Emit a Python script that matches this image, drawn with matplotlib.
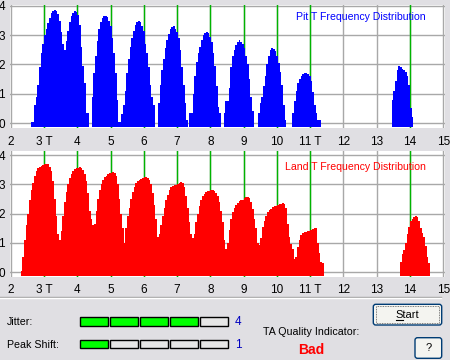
import numpy as np
import matplotlib
matplotlib.use("Agg")
import matplotlib.pyplot as plt
from matplotlib.patches import Rectangle, FancyBboxPatch

plt.rcParams["font.family"] = ["Liberation Sans", "DejaVu Sans"]

# histogram bins are 0.05 T wide
bin_width = 0.05
tick_values = list(range(2, 16))
tick_labels = ["2", "3 T", "4", "5", "6", "7", "8", "9", "10", "11 T", "12", "13", "14", "15"]
marker_t = [3, 4, 5, 6, 7, 8, 9, 10, 11, 14]

# pit T distribution: start of each run of bins and the bin heights
pit_starts = [2.60, 4.43, 6.43, 7.37, 8.40, 9.43, 10.46, 13.45]
pit_heights = [
    [0.05, 0.05, 0.6, 0.9, 1.3, 1.9, 2.4, 2.7, 3.0, 3.2, 3.4, 3.6, 3.75, 3.83, 3.86, 3.82,
     3.72, 3.5, 3.1, 2.7, 2.5, 2.8, 3.15, 3.45, 3.65, 3.77, 3.83, 3.8, 3.7, 3.35, 2.6,
     1.95, 1.35, 0.35, 0.35],
    [0.9, 1.7, 2.3, 2.8, 3.2, 3.45, 3.6, 3.65, 3.66, 3.62, 3.5, 3.3, 2.9, 2.4, 1.7, 0.8,
     0.05, 0.05, 0.3, 0.6, 1.1, 1.7, 2.2, 2.6, 2.9, 3.15, 3.35, 3.45, 3.5, 3.45, 3.3,
     3.15, 2.7, 2.4, 1.9, 1.3, 0.9, 0.6],
    [0.7, 1.3, 1.8, 2.2, 2.55, 2.85, 3.05, 3.2, 3.27, 3.3, 3.22, 3.1, 2.9, 2.5, 1.9, 1.3,
     0.7, 0.1],
    [0.35, 0.35, 1.0, 1.6, 2.1, 2.4, 2.6, 2.85, 3.0, 3.08, 3.1, 3.07, 2.95, 2.75, 2.4,
     1.95, 1.25, 0.55, 0.35],
    [0.35, 0.75, 0.75, 1.2, 1.9, 2.3, 2.5, 2.65, 2.78, 2.82, 2.78, 2.7, 2.55, 2.3, 2.0,
     1.5, 0.9, 0.4],
    [0.35, 0.7, 0.9, 1.25, 1.6, 2.0, 2.3, 2.5, 2.56, 2.52, 2.45, 2.3, 2.05, 1.75, 1.3,
     0.6, 0.1],
    [0.35, 0.75, 1.1, 1.35, 1.5, 1.6, 1.68, 1.72, 1.7, 1.66, 1.6, 1.45, 1.05, 0.6, 0.35,
     0.1, 0.1],
    [0.8, 1.1, 1.45, 1.8, 1.95, 1.92, 1.85, 1.8, 1.75, 1.6, 1.3, 0.5, 0.2],
]

# land T distribution
land_starts = [2.30, 13.70]
land_heights = [
    [0.05, 0.5, 1.1, 1.6, 2.0, 2.45, 2.8, 3.05, 3.3, 3.45, 3.55, 3.6, 3.63, 3.66, 3.68,
     3.7, 3.68, 3.6, 3.45, 3.1, 2.5, 1.9, 1.3, 1.1,
     1.4, 1.9, 2.4, 2.75, 3.0, 3.2, 3.35, 3.45, 3.52, 3.55, 3.56, 3.58, 3.55, 3.5, 3.35,
     3.1, 2.7, 2.1, 1.8, 1.6,
     1.65, 2.1, 2.5, 2.8, 3.0, 3.15, 3.25, 3.3, 3.35, 3.38, 3.4, 3.42, 3.4, 3.3, 3.0,
     2.5, 2.0, 1.5, 1.0,
     1.5, 1.9, 2.2, 2.5, 2.75, 2.9, 3.05, 3.1, 3.15, 3.18, 3.2, 3.25, 3.26, 3.22, 3.15,
     3.0, 2.7, 2.3, 1.8, 1.2,
     1.3, 1.6, 1.9, 2.2, 2.45, 2.65, 2.8, 2.9, 2.95, 2.97, 2.98, 3.0, 3.05, 3.08, 3.05,
     2.9, 2.6, 2.2, 1.7, 1.3, 1.15,
     1.3, 1.7, 2.0, 2.25, 2.45, 2.6, 2.68, 2.73, 2.76, 2.78, 2.8, 2.8, 2.78, 2.7, 2.6,
     2.4, 2.1, 1.7, 1.1, 0.8,
     1.0, 1.45, 1.8, 2.05, 2.2, 2.3, 2.37, 2.42, 2.45, 2.47, 2.52, 2.56, 2.58, 2.54, 2.4,
     2.15, 1.8, 1.5, 1.0, 0.93,
     1.15, 1.55, 1.75, 1.92, 2.05, 2.12, 2.17, 2.22, 2.25, 2.27, 2.3, 2.32, 2.34, 2.35,
     2.33, 2.2, 1.65, 1.2, 0.95, 0.8, 0.45,
     0.5, 0.85, 1.1, 1.28, 1.33, 1.36, 1.38, 1.4, 1.42, 1.45, 1.47, 1.52, 1.5, 1.0, 0.65,
     0.35, 0.3],
    [0.35, 0.6, 0.75, 1.0, 1.3, 1.55, 1.73, 1.8, 1.88, 1.92, 1.88, 1.73, 1.5, 1.35, 1.2,
     0.88, 0.53, 0.3],
]

jitter_level = 4
peak_shift_level = 1
level_boxes = 5
quality_text = "Bad"

BG = "#E0DFE3"
W, H = 450, 360
fig = plt.figure(figsize=(4.5, 3.6), dpi=100, facecolor=BG)


def px_axes(left, top, right, bottom):
    return fig.add_axes([left / W, 1 - bottom / H, (right - left) / W, (bottom - top) / H])


ax_pit = px_axes(10, 5, 445, 128)
ax_land = px_axes(10, 151, 445, 277)

panels = [
    (ax_pit, pit_starts, pit_heights, "#0000FF", "Pit T Frequency Distribution", 4.03, 3.62),
    (ax_land, land_starts, land_heights, "#FF0000", "Land T Frequency Distribution", 4.14, 3.59),
]

for ax, starts, heights, color, title, ytop, ytitle in panels:
    ax.set_facecolor("white")
    ax.set_xlim(1.98, 15.05)
    ax.set_ylim(-0.17, ytop)
    ax.set_xticks(tick_values, tick_labels)
    ax.set_yticks(range(5))
    ax.grid(True, color="#A8A8A8", lw=1)
    ax.set_axisbelow(True)
    for s in ax.spines.values():
        s.set_visible(False)
    ax.tick_params(length=0, labelsize=8.5, colors="black")
    ax.tick_params(axis="y", pad=3.6)
    ax.tick_params(axis="x", pad=5.5 if ax is ax_pit else 5)
    for m in marker_t:
        ax.axvline(m, color="#00B400", lw=1.0, zorder=1.5)
    for s, h in zip(starts, heights):
        edges = s + bin_width * np.arange(len(h) + 1)
        ax.stairs(h, edges, baseline=-0.15, fill=True, color=color, lw=0, zorder=3)
    ax.text(14.48, ytitle, title, color=color, fontsize=7.6, ha="right", va="center", zorder=4)

# controls panel below the charts, in pixel coordinates
ui = fig.add_axes([0, 0, 1, 1], zorder=-1)
ui.set_xlim(0, W)
ui.set_ylim(H, 0)
ui.axis("off")

ui.plot([0, 441], [296.5, 296.5], color="#A0A0A0", lw=1)
ui.plot([0, 441], [297.5, 297.5], color="white", lw=1)

for label, level, ytop in [("Jitter:", jitter_level, 317.3), ("Peak Shift:", peak_shift_level, 340)]:
    ui.text(7, ytop + 4.5, label, fontsize=7.7, ha="left", va="center")
    for i in range(level_boxes):
        fc = "#00FF00" if i < level else "#E6E6E6"
        ui.add_patch(Rectangle((80 + 30 * i, ytop), 27.7, 8.3, fc=fc, ec="black", lw=1))
    ui.text(238, ytop + 4.5, str(level), color="#0000C0", fontsize=8.5, ha="center", va="center")

ui.text(263, 331.7, "TA Quality Indicator:", fontsize=7.7, ha="left", va="center")
ui.text(311, 349.5, quality_text, color="#FF0000", fontsize=10, fontweight="bold",
        ha="center", va="center")

# Start button
ui.add_patch(FancyBboxPatch((373.3, 304.3), 68.4, 20.7, boxstyle="round,pad=0,rounding_size=2.5",
                            fc="#F4F4F0", ec="#003C74", lw=1))
ui.add_patch(Rectangle((375.8, 306.3), 63.4, 16.7, fill=False, ec="#555555", lw=0.6, ls=(0, (1, 1))))
ui.text(407.3, 315, "Start", fontsize=8, ha="center", va="center")
ui.plot([395.6, 402.6], [320.3, 320.3], color="black", lw=0.8)

# help button
ui.add_patch(FancyBboxPatch((415, 337.7), 26.7, 20.6, boxstyle="round,pad=0,rounding_size=2.5",
                            fc="#F4F4F0", ec="#003C74", lw=1))
ui.text(428.3, 348, "?", fontsize=8, ha="center", va="center")

fig.savefig("out.png", dpi=100, facecolor=BG)
